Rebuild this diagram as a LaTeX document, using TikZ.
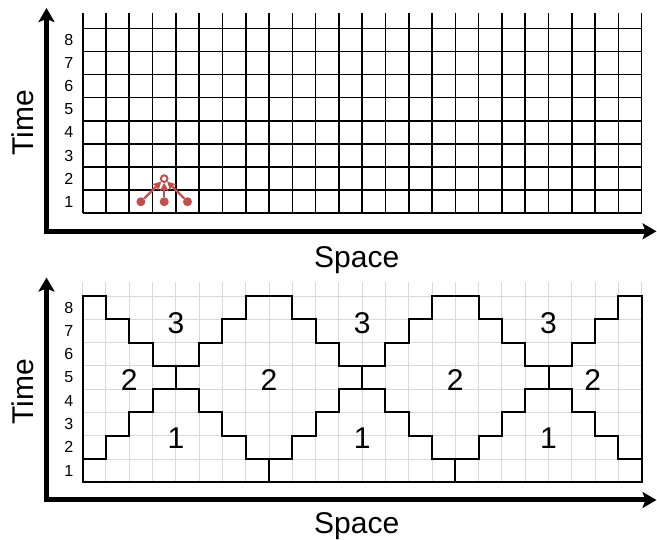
\documentclass[tikz,border=0pt]{standalone}
\usepackage{fontspec}
\setmainfont{Liberation Sans}
\usetikzlibrary{arrows.meta}
\definecolor{stred}{HTML}{C0504D}
\definecolor{lgray}{HTML}{D9D9D9}
\begin{document}
\begin{tikzpicture}[x=1pt,y=-1pt,
  axis/.style={line width=5pt, line join=miter,
    {Stealth[length=14pt,width=16pt,inset=3pt]}-{Stealth[length=14pt,width=16pt,inset=3pt]}},
  axlabel/.style={font=\fontsize{30}{30}\selectfont, inner sep=0pt, anchor=base},
  rowlabel/.style={font=\fontsize{16}{16}\selectfont, inner sep=0pt},
  regionlabel/.style={font=\fontsize{30}{30}\selectfont, inner sep=0pt},
  topgrid/.style={line width=1.6pt, black},
  softgrid/.style={line width=1pt, lgray},
  bnd/.style={line width=2pt, black, line join=miter},
  dot/.style={circle, fill=stred, inner sep=0pt, minimum size=9pt},
  target/.style={circle, draw=stred, fill=white, line width=1.8pt, inner sep=0pt, minimum size=6.5pt},
  stencilarrow/.style={stred, line width=2.3pt, -{Stealth[length=8.5pt,width=9pt,inset=2pt]}}
]
\useasboundingbox (0,0) rectangle (657,540);

% ---------- top panel ----------
\begin{scope}[shift={(82.7,213.3)}, x=23.29pt, y=23.12pt]
  \foreach \i in {0,...,24} \draw[topgrid] (\i,0) -- (\i,8.65);
  \foreach \j in {0,...,8} \draw[topgrid] (0,\j) -- (24,\j);
  \foreach \j in {1,...,8} \node[rowlabel] at (-0.6,\j-0.5) {\j};
  \node[dot] (d1) at (2.5,0.5) {};
  \node[dot] (d2) at (3.5,0.5) {};
  \node[dot] (d3) at (4.5,0.5) {};
  \node[target] (c) at (3.5,1.5) {};
  \draw[stencilarrow] (d1) -- (c);
  \draw[stencilarrow] (d2) -- (c);
  \draw[stencilarrow] (d3) -- (c);
  \node[target] at (c) {};
\end{scope}
\draw[axis] (656.5,231.3) -- (46.5,231.3) -- (46.5,8);
\node[axlabel, rotate=90] (t1) at (33.3,122.5) {Time};
\node[axlabel] (s1) at (356.7,267.3) {Space};

% ---------- bottom panel ----------
\begin{scope}[shift={(82.7,482.3)}, x=23.29pt, y=23.28pt]
  \foreach \i in {0,...,24} \draw[softgrid] (\i,0) -- (\i,8.62);
  \foreach \j in {0,...,8} \draw[softgrid] (0,\j) -- (24,\j);
  \foreach \j in {1,...,8} \node[rowlabel] at (-0.6,\j-0.5) {\j};
  \draw[bnd] (0,8) -- (1,8) -- (1,7) -- (2,7) -- (2,6) -- (3,6) -- (3,5) -- (5,5)
    -- (5,6) -- (6,6) -- (6,7) -- (7,7) -- (7,8) -- (9,8) -- (9,7) -- (10,7)
    -- (10,6) -- (11,6) -- (11,5) -- (13,5) -- (13,6) -- (14,6) -- (14,7) -- (15,7)
    -- (15,8) -- (17,8) -- (17,7) -- (18,7) -- (18,6) -- (19,6) -- (19,5) -- (21,5)
    -- (21,6) -- (22,6) -- (22,7) -- (23,7) -- (23,8) -- (24,8) -- (24,0) -- (0,0) -- cycle;
  \draw[bnd] (0,1) -- (1,1) -- (1,2) -- (2,2) -- (2,3) -- (3,3) -- (3,4) -- (5,4)
    -- (5,3) -- (6,3) -- (6,2) -- (7,2) -- (7,1) -- (9,1) -- (9,2) -- (10,2)
    -- (10,3) -- (11,3) -- (11,4) -- (13,4) -- (13,3) -- (14,3) -- (14,2) -- (15,2)
    -- (15,1) -- (17,1) -- (17,2) -- (18,2) -- (18,3) -- (19,3) -- (19,4) -- (21,4)
    -- (21,3) -- (22,3) -- (22,2) -- (23,2) -- (23,1) -- (24,1);
  \foreach \i in {4,12,20} \draw[bnd] (\i,4) -- (\i,5);
  \foreach \i in {8,16} \draw[bnd] (\i,0) -- (\i,1);
  \foreach \i in {4,12,20} {
    \node[regionlabel] at (\i,6.85) {3};
    \node[regionlabel] at (\i,1.9) {1};
  }
  \foreach \i in {2,8,16,21.9} \node[regionlabel] at (\i,4.4) {2};
\end{scope}
\draw[axis] (656.5,500) -- (46.5,500) -- (46.5,277.5);
\node[axlabel, rotate=90] (t2) at (33.3,391.7) {Time};
\node[axlabel] (s2) at (356.7,533.3) {Space};
\end{tikzpicture}
\end{document}
